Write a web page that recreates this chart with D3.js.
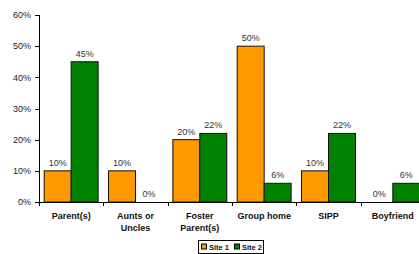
<!DOCTYPE html>
<html>
<head>
<meta charset="utf-8">
<script src="https://cdn.jsdelivr.net/npm/d3@7"></script>
<style>
  body { margin: 0; background: #fff; }
  svg { display: block; font-family: "Liberation Sans", Arial, sans-serif; }
</style>
</head>
<body>
<script>
var categories = [['Parent(s)'], ['Aunts or', 'Uncles'], ['Foster', 'Parent(s)'], ['Group home'], ['SIPP'], ['Boyfriend']];
var site1 = [10, 10, 20, 50, 10, 0];
var site2 = [45, 0, 22, 6, 22, 6];
var series = ['Site 1', 'Site 2'];
var colors = ['#ff9900', '#008000'];
var yTicks = [0, 10, 20, 30, 40, 50, 60];

var width = 419,
    height = 254;

var svg = d3.select('body')
  .append('svg')
    .attr('width', width)
    .attr('height', height)

var x = d3.scaleBand()
    .domain(d3.range(categories.length))
    .range([39, 425])
    .paddingInner(0)
    .paddingOuter(0);

var inner = d3.scaleBand()
    .domain([0, 1])
    .range([5.2, x.bandwidth() - 5.2]);

var y = d3.scaleLinear()
    .domain([0, 60])
    .range([202, 15]);

// y axis
svg.append('line')
    .attr('x1', 39.5).attr('x2', 39.5)
    .attr('y1', y(60)).attr('y2', y(0))
    .attr('stroke', '#000');

svg.selectAll('.ytick')
    .data(yTicks).enter()
  .append('line')
    .attr('x1', 35).attr('x2', 39.5)
    .attr('y1', function(d){ return Math.round(y(d)) + 0.5; })
    .attr('y2', function(d){ return Math.round(y(d)) + 0.5; })
    .attr('stroke', '#000');

svg.selectAll('.ylab')
    .data(yTicks).enter()
  .append('text')
    .attr('x', 31)
    .attr('y', function(d){ return y(d) + 3.2; })
    .attr('text-anchor', 'end')
    .attr('font-size', '9px')
    .attr('fill', '#222')
    .text(function(d){ return d + '%'; });

// bars
var rows = [];
categories.forEach(function(c, i){
  rows.push({cat: i, s: 0, v: site1[i]});
  rows.push({cat: i, s: 1, v: site2[i]});
});

svg.selectAll('rect.bar')
    .data(rows.filter(function(d){ return d.v > 0; })).enter()
  .append('rect')
    .attr('class', 'bar')
    .attr('x', function(d){ return x(d.cat) + inner(d.s); })
    .attr('width', inner.bandwidth())
    .attr('y', function(d){ return y(d.v); })
    .attr('height', function(d){ return y(0) - y(d.v); })
    .attr('fill', function(d){ return colors[d.s]; })
    .attr('stroke', '#111')
    .attr('stroke-width', 1);

svg.selectAll('text.val')
    .data(rows).enter()
  .append('text')
    .attr('class', 'val')
    .attr('x', function(d){ return x(d.cat) + inner(d.s) + inner.bandwidth() / 2; })
    .attr('y', function(d){ return y(d.v) - 5; })
    .attr('text-anchor', 'middle')
    .attr('font-size', '9px')
    .attr('fill', '#333')
    .text(function(d){ return d.v + '%'; });

// x axis
svg.append('line')
    .attr('x1', 39).attr('x2', 425)
    .attr('y1', 202.5).attr('y2', 202.5)
    .attr('stroke', '#000');

svg.selectAll('.xtick')
    .data(d3.range(categories.length + 1)).enter()
  .append('line')
    .attr('x1', function(d){ return Math.round(39 + d * x.bandwidth()) + 0.5; })
    .attr('x2', function(d){ return Math.round(39 + d * x.bandwidth()) + 0.5; })
    .attr('y1', 202).attr('y2', 206)
    .attr('stroke', '#000');

var labels = svg.selectAll('text.cat')
    .data(categories).enter()
  .append('text')
    .attr('class', 'cat')
    .attr('text-anchor', 'middle')
    .attr('font-size', '9px')
    .attr('font-weight', 'bold')
    .attr('fill', '#111');

labels.selectAll('tspan')
    .data(function(d, i){ return d.map(function(t){ return {t: t, i: i}; }); }).enter()
  .append('tspan')
    .attr('x', function(d){ return x(d.i) + x.bandwidth() / 2; })
    .attr('y', function(d, j){ return 219 + j * 11.5; })
    .text(function(d){ return d.t; });

// legend
var lg = svg.append('g').attr('transform', 'translate(198.5,240.5)');
lg.append('rect')
    .attr('width', 65).attr('height', 13)
    .attr('fill', '#fff')
    .attr('stroke', '#000');

var items = lg.selectAll('g.item')
    .data(series).enter()
  .append('g')
    .attr('transform', function(d, i){ return 'translate(' + (3 + i * 33) + ',0)'; });

items.append('rect')
    .attr('y', 3.5).attr('width', 5).attr('height', 5)
    .attr('fill', function(d, i){ return colors[i]; })
    .attr('stroke', '#000');

items.append('text')
    .attr('x', 7.5).attr('y', 9.5)
    .attr('font-size', '7.5px')
    .attr('font-weight', 'bold')
    .attr('fill', '#111')
    .text(function(d){ return d; });
</script>
</body>
</html>
